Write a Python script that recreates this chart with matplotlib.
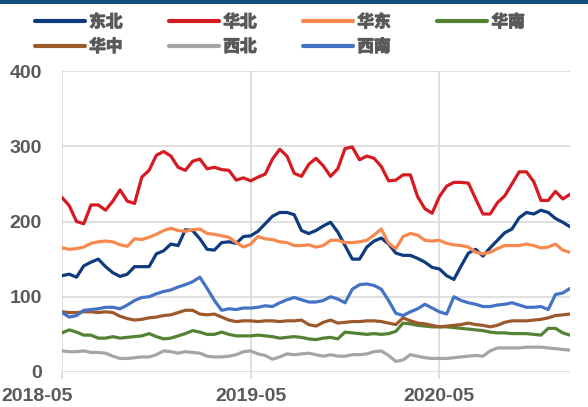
import matplotlib
matplotlib.use("Agg")
import matplotlib.pyplot as plt
import matplotlib.patheffects as pe
import matplotlib.transforms as mtransforms
from matplotlib.patches import Rectangle
import pandas as pd

plt.rcParams['font.family'] = ['Liberation Sans', 'Noto Sans CJK SC', 'DejaVu Sans']
plt.rcParams['font.weight'] = 'bold'

# ---- data (biweekly samples) ----
dates = pd.date_range('2018-05-04', periods=71, freq='14D')
tick_labels = ['2018-05', '2019-05', '2020-05']
tick_idx = [0, 26, 52]
y_ticks = [0, 100, 200, 300, 400]

names = ['东北', '华北', '华东', '华南', '华中', '西北', '西南']

dongbei = [128, 130, 126, 141, 146, 150, 140, 132, 127, 130, 140, 140, 140, 157, 161, 170, 168, 189, 188, 177,
           163, 162, 172, 173, 171, 180, 181, 187, 197, 207, 212, 212, 209, 188, 184, 188, 194, 199, 186, 168,
           150, 150, 166, 174, 178, 170, 158, 155, 155, 151, 146, 139, 137, 128, 123, 141, 158, 163, 154, 165,
           175, 185, 190, 205, 212, 210, 215, 212, 204, 199, 193]
huabei = [232, 221, 200, 197, 222, 222, 215, 227, 242, 227, 224, 259, 268, 288, 293, 287, 272, 268, 280, 283,
          270, 272, 269, 268, 255, 258, 254, 259, 263, 283, 296, 287, 264, 260, 276, 284, 274, 260, 270, 297,
          299, 282, 287, 284, 273, 254, 255, 262, 262, 233, 217, 211, 233, 247, 252, 252, 251, 230, 210, 210,
          225, 234, 250, 266, 266, 253, 228, 228, 240, 230, 236]
huadong = [165, 163, 164, 166, 171, 173, 174, 173, 169, 167, 177, 176, 179, 183, 188, 191, 188, 187, 189, 190,
           184, 183, 181, 179, 172, 166, 170, 180, 177, 176, 173, 172, 168, 168, 169, 166, 168, 175, 175, 172,
           172, 173, 175, 182, 190, 171, 164, 180, 184, 182, 175, 174, 175, 171, 169, 168, 166, 159, 157, 159,
           164, 168, 168, 168, 170, 168, 165, 166, 170, 162, 159]
huanan = [52, 56, 53, 49, 49, 45, 45, 47, 45, 46, 47, 48, 51, 47, 44, 45, 48, 51, 55, 53,
          50, 50, 53, 50, 48, 48, 48, 49, 48, 47, 45, 46, 47, 46, 44, 43, 45, 46, 44, 53,
          52, 51, 50, 51, 50, 51, 54, 65, 64, 62, 61, 60, 60, 60, 59, 58, 57, 56, 55, 53,
          52, 52, 51, 51, 51, 50, 49, 58, 58, 52, 49]
huazhong = [80, 79, 79, 80, 80, 79, 80, 79, 74, 71, 69, 70, 72, 73, 75, 76, 79, 82, 82, 77,
            76, 77, 73, 69, 67, 68, 68, 67, 68, 68, 67, 68, 68, 69, 63, 61, 66, 69, 65, 66,
            67, 67, 68, 68, 67, 65, 63, 72, 68, 65, 64, 62, 60, 61, 62, 63, 65, 63, 62, 60,
            62, 66, 68, 68, 68, 69, 70, 72, 75, 76, 77]
xibei = [28, 27, 27, 28, 26, 26, 25, 21, 18, 18, 19, 20, 20, 23, 28, 27, 25, 27, 26, 25,
         21, 20, 20, 21, 23, 27, 28, 24, 22, 17, 20, 24, 23, 24, 25, 23, 21, 23, 21, 21,
         23, 23, 24, 27, 28, 22, 14, 16, 23, 21, 19, 18, 18, 18, 19, 20, 21, 22, 21, 28,
         32, 32, 32, 32, 33, 33, 33, 32, 31, 30, 29]
xinan = [79, 73, 75, 82, 83, 84, 86, 86, 84, 89, 95, 99, 100, 104, 107, 109, 113, 116, 120, 126,
         111, 95, 82, 84, 83, 85, 85, 86, 88, 87, 92, 96, 99, 96, 93, 93, 95, 100, 97, 92,
         110, 116, 117, 115, 110, 95, 78, 75, 80, 84, 90, 85, 80, 77, 100, 95, 92, 90, 87, 87,
         89, 90, 92, 89, 86, 86, 87, 83, 103, 105, 111]

series = [dongbei, huabei, huadong, huanan, huazhong, xibei, xinan]
colors = ['#0E3B7D', '#D51A21', '#F7894F', '#548235', '#9C5A2C', '#A5A5A5', '#4472C4']
text_c = '#595959'

# ---- figure ----
fig = plt.figure(figsize=(5.88, 4.07), dpi=100)
ax = fig.add_axes([62 / 588, 1 - 372 / 407, (570 - 62) / 588, (372 - 71) / 407])

handles = []
for name, vals, c in zip(names, series, colors):
    h, = ax.plot(dates, vals, color=c, lw=2.3, label=name, solid_capstyle='round',
                 solid_joinstyle='round')
    handles.append(h)

ax.set_ylim(0, 400)
ax.set_xlim(dates[0], dates[-1])
ax.set_yticks(y_ticks)
ax.set_xticks([dates[i] for i in tick_idx])
ax.set_xticklabels(tick_labels)

grid_c = '#D9D9D9'
ax.grid(True, color=grid_c, lw=1.2)
ax.set_axisbelow(True)
for s in ax.spines.values():
    s.set_visible(False)
ax.tick_params(axis='y', length=0, pad=14.5, labelsize=14, labelcolor=text_c)
ax.tick_params(axis='x', length=5, width=1.2, color=grid_c, pad=6.5, labelsize=14,
               labelcolor=text_c)
for lab in ax.get_xticklabels() + ax.get_yticklabels():
    lab.set_fontweight('bold')

# first date label sits flush at the left edge of the image
first = ax.get_xticklabels()[0]
first.set_ha('left')
first.set_transform(first.get_transform() +
                    mtransforms.ScaledTranslation(-61 / 100, 0, fig.dpi_scale_trans))

# legend (row-major order: 4 per row)
order = [0, 4, 1, 5, 2, 6, 3]
leg = fig.legend([handles[i] for i in order], [names[i] for i in order], ncol=4,
                 loc='upper left', bbox_to_anchor=(35 / 588, 1 - 13 / 407), frameon=False,
                 handlelength=3.0, handletextpad=0.25, columnspacing=2.8, labelspacing=0.4,
                 borderaxespad=0, borderpad=0,
                 prop={'family': ['Noto Sans CJK SC', 'DejaVu Sans'], 'size': 12, 'weight': 'bold'})
for t in leg.get_texts():
    t.set_color(text_c)
    t.set_path_effects([pe.withStroke(linewidth=0.8, foreground=text_c)])
for l in leg.get_lines():
    l.set_linewidth(3)

# top band
fig.add_artist(Rectangle((0, 1 - 4 / 407), 1, 4 / 407, transform=fig.transFigure,
                         color='#114E7E', lw=0))

fig.savefig('out.png', dpi=100)
